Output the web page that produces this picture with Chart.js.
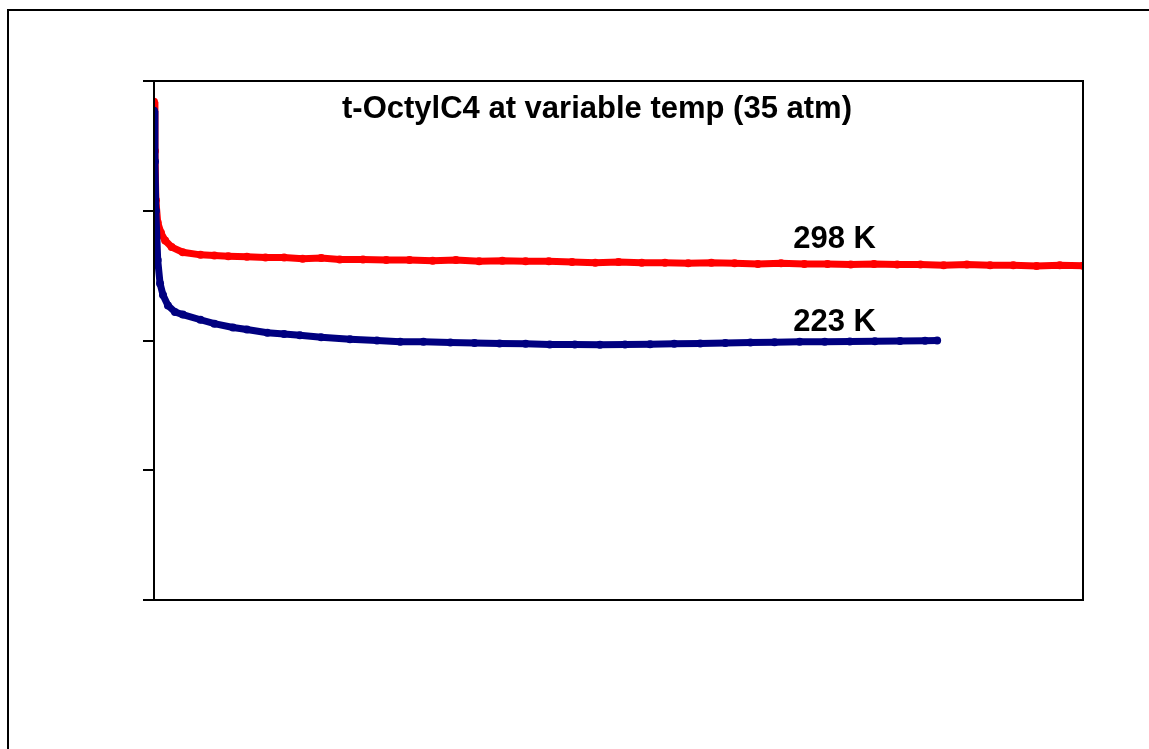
<!DOCTYPE html>
<html>
<head>
<meta charset="utf-8">
<title>t-OctylC4 at variable temp (35 atm)</title>
<script src="https://cdn.jsdelivr.net/npm/chart.js@4/dist/chart.umd.min.js"></script>
<style>
  html, body { margin: 0; padding: 0; background: #fff; overflow: hidden; }
  /* bingkai luar chart (keluar dari layar di kanan & bawah) */
  .frame {
    position: absolute; left: 7px; top: 9px;
    width: 1300px; height: 900px;
    border: 2px solid #000;
  }
  #chart { position: absolute; left: 0; top: 0; }
</style>
</head>
<body>
<div class="frame"></div>
<canvas id="chart" width="1149" height="749"></canvas>
<script>
// ---- DATA (sumbu tanpa label angka) ----
const yTickValues = [0, 1, 2, 3, 4];

// 223 K (biru)
const timeBlue = [0, 1, 2, 4, 6.5, 9.7, 15, 22.6, 31, 50, 65, 85, 100, 122, 140, 157, 180, 211, 240, 265,
                  290, 319, 345, 372, 400, 426, 453, 480, 507, 534, 560, 588, 615, 642, 668, 695, 722, 749,
                  776, 803, 830, 843];
const signalBlue = [3.77, 3.38, 3.0, 2.62, 2.44, 2.35, 2.27, 2.22, 2.20, 2.16, 2.13, 2.10, 2.085, 2.06, 2.05,
                    2.04, 2.025, 2.01, 2.0, 1.99, 1.99, 1.985, 1.98, 1.977, 1.975, 1.97, 1.97, 1.968, 1.97,
                    1.972, 1.975, 1.977, 1.98, 1.985, 1.987, 1.99, 1.99, 1.992, 1.995, 1.996, 1.998, 2.0];

// 298 K (merah)
const timeRed = [0, 1, 2, 4, 7.5, 12, 19, 31, 50, 65, 80, 100, 120, 140, 160, 180, 200, 225, 250, 275, 300,
                 325, 350, 375, 400, 425, 450, 475, 500, 525, 550, 575, 600, 625, 650, 675, 700, 725, 750,
                 775, 800, 825, 850, 875, 900, 925, 950, 975, 1000];
const signalRed = [3.84, 3.46, 3.08, 2.91, 2.83, 2.77, 2.72, 2.68, 2.66, 2.655, 2.65, 2.645, 2.64, 2.64, 2.63,
                   2.635, 2.625, 2.625, 2.62, 2.62, 2.615, 2.62, 2.61, 2.615, 2.61, 2.61, 2.605, 2.60, 2.605,
                   2.60, 2.60, 2.595, 2.60, 2.595, 2.59, 2.595, 2.59, 2.59, 2.585, 2.59, 2.585, 2.585, 2.58,
                   2.585, 2.58, 2.58, 2.575, 2.58, 2.577];

// label seri: [teks, x, y] dalam satuan data
const seriesLabels = [
  ['298 K', 688, 2.715],
  ['223 K', 688, 2.077],
];
const chartTitle = 't-OctylC4 at variable temp (35 atm)';

const toPoints = (xs, ys) => xs.map((x, i) => ({ x: x, y: ys[i] }));

// plugin kecil: bingkai area plot, judul di dalam plot, label seri
const extras = {
  id: 'extras',
  afterDraw(chart) {
    const { ctx, chartArea: a, scales } = chart;
    ctx.save();
    ctx.strokeStyle = '#000';
    ctx.lineWidth = 2;
    ctx.strokeRect(a.left, a.top, a.right - a.left, a.bottom - a.top);

    ctx.fillStyle = '#000';
    ctx.font = 'bold 31px "Liberation Sans", Arial, sans-serif';
    ctx.textAlign = 'center';
    ctx.textBaseline = 'alphabetic';
    ctx.fillText(chartTitle, 597, a.top + 37);

    ctx.textAlign = 'left';
    seriesLabels.forEach(([txt, x, y]) => {
      ctx.fillText(txt, scales.x.getPixelForValue(x), scales.y.getPixelForValue(y));
    });
    ctx.restore();
  },
};

new Chart(document.getElementById('chart'), {
  type: 'line',
  data: {
    datasets: [
      {
        label: '223 K',
        data: toPoints(timeBlue, signalBlue),
        borderColor: '#000080',
        backgroundColor: '#000080',
        borderWidth: 7,
        pointRadius: 4,
        pointBorderWidth: 0,
        tension: 0,
      },
      {
        label: '298 K',
        data: toPoints(timeRed, signalRed),
        borderColor: '#ff0000',
        backgroundColor: '#ff0000',
        borderWidth: 7,
        pointRadius: 4,
        pointBorderWidth: 0,
        tension: 0,
      },
    ],
  },
  options: {
    responsive: false,
    animation: false,
    layout: { padding: { left: 143, top: 81, right: 66, bottom: 149 } },
    plugins: { legend: { display: false }, tooltip: { enabled: false }, title: { display: false } },
    scales: {
      x: {
        type: 'linear', min: 0, max: 1000,
        ticks: { display: false },
        grid: { display: false },
        border: { display: true, color: '#000', width: 2 },
        afterFit: (s) => { s.height = 0; },
      },
      y: {
        min: 0, max: 4,
        afterBuildTicks: (s) => { s.ticks = yTickValues.map((v) => ({ value: v })); },
        ticks: { display: false },
        grid: { drawOnChartArea: false, drawTicks: true, tickLength: 11, color: '#000', lineWidth: 2 },
        border: { display: true, color: '#000', width: 2 },
        afterFit: (s) => { s.width = 11; },
      },
    },
  },
  plugins: [extras],
});
</script>
</body>
</html>
